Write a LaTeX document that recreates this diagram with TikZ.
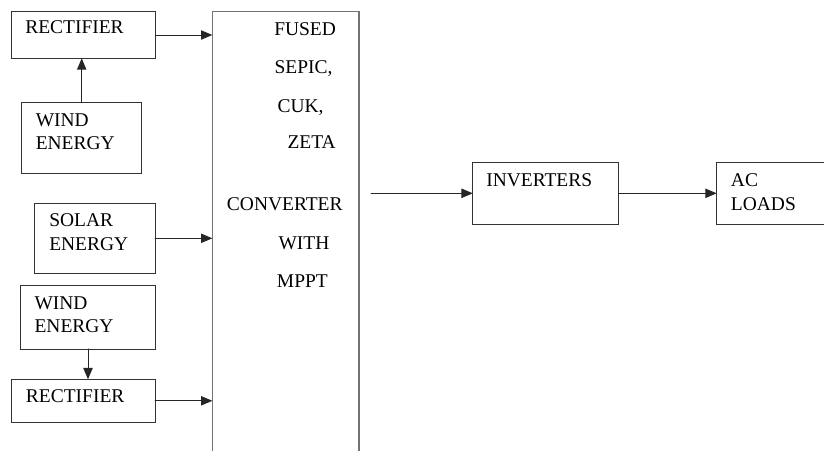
\documentclass[tikz,border=0pt]{standalone}
\usepackage{fontspec}
\setmainfont{Liberation Serif}
\usetikzlibrary{arrows.meta}

\begin{document}
\begin{tikzpicture}[x=0.75pt, y=-0.75pt, >={Triangle[length=8.5pt,width=7pt]}, line cap=round,
	box/.style={draw=black!80, line width=0.6pt, inner sep=0pt, outer sep=0pt},
	bigbox/.style={draw=black!55, line width=0.9pt, inner sep=0pt, outer sep=0pt},
	txt/.style={anchor=base west, inner sep=0pt, font=\fontsize{14.6}{16.5}\selectfont},
	flow/.style={->, draw=black!85, line width=0.7pt}]
	% -------- Page --------
	\clip (0,0) rectangle (824,450);
	
	% -------- Sources (left column) --------
	\node[box, minimum width=108pt, minimum height=35pt] (rect1) at (83.3,35) {};
	\node[box, minimum width=90pt, minimum height=53.25pt] (wind1) at (81.7,137.8) {};
	\node[box, minimum width=90.5pt, minimum height=52.5pt] (solar) at (94.7,238.3) {};
	\node[box, minimum width=101pt, minimum height=47.5pt] (wind2) at (88,317.3) {};
	\node[box, minimum width=108pt, minimum height=32.25pt] (rect2) at (83,400.8) {};
	
	\node[txt] (trect1) at (25,33) {RECTIFIER};
	\node[txt] (twind1a) at (35.5,126) {WIND};
	\node[txt] (twind1b) at (35.5,149) {ENERGY};
	\node[txt] (tsolara) at (49,226.7) {SOLAR};
	\node[txt] (tsolarb) at (49,250) {ENERGY};
	\node[txt] (twind2a) at (34.3,309.3) {WIND};
	\node[txt] (twind2b) at (34.3,332.7) {ENERGY};
	\node[txt] (trect2) at (25.7,402.7) {RECTIFIER};
	
	% -------- Converter (runs off the bottom) --------
	\node[bigbox, minimum width=110pt, minimum height=340pt] (conv) at (285.7,238.5) {};
	\node[txt] (tc1) at (274,35) {FUSED};
	\node[txt] (tc2) at (274.3,73) {SEPIC,};
	\node[txt] (tc3) at (277.3,112) {CUK,};
	\node[txt] (tc4) at (287.3,148) {ZETA};
	\node[txt] (tc5) at (226.7,210.7) {CONVERTER};
	\node[txt] (tc6) at (278.3,249) {WITH};
	\node[txt] (tc7) at (276.7,287.3) {MPPT};
	\coordinate (convout) at (371,193.3);
	
	% -------- Output side --------
	\node[box, minimum width=109.5pt, minimum height=46pt] (inv) at (545.8,193.3) {};
	\node[box, minimum width=90pt, minimum height=46pt] (acl) at (776.7,193.3) {};
	\node[txt] (tinv) at (486,186.7) {INVERTERS};
	\node[txt] (tacla) at (730.7,186.7) {AC};
	\node[txt] (taclb) at (730.7,210) {LOADS};
	
	% -------- Connectors --------
	\draw[flow] (wind1.north) -- (wind1.north |- rect1.south);
	\draw[flow] (wind2.south) -- (wind2.south |- rect2.north);
	\draw[flow] (rect1.east) -- (rect1.east -| conv.west);
	\draw[flow] (solar.east) -- (solar.east -| conv.west);
	\draw[flow] (rect2.east) -- (rect2.east -| conv.west);
	\draw[flow] (convout) -- (inv.west);
	\draw[flow] (inv.east) -- (acl.west);
\end{tikzpicture}
\end{document}
